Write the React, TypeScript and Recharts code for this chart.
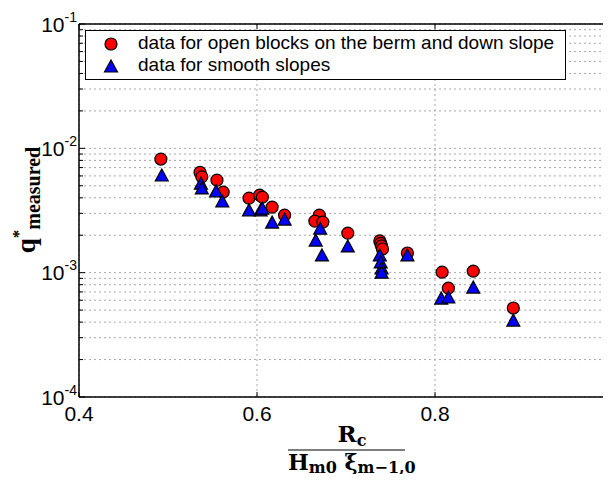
import { ScatterChart, Scatter, XAxis, YAxis, CartesianGrid, ReferenceLine } from "recharts";

// open blocks on the berm and down slope (red circles)
const openX = [0.492, 0.536, 0.538, 0.555, 0.562, 0.591, 0.603, 0.606, 0.617, 0.631, 0.670, 0.665, 0.674, 0.702, 0.738, 0.739, 0.740, 0.741, 0.769, 0.808, 0.815, 0.843, 0.888];
const openY = [8.2e-3, 6.4e-3, 5.9e-3, 5.55e-3, 4.45e-3, 3.98e-3, 4.2e-3, 4.05e-3, 3.37e-3, 2.9e-3, 2.9e-3, 2.6e-3, 2.55e-3, 2.08e-3, 1.8e-3, 1.72e-3, 1.64e-3, 1.55e-3, 1.44e-3, 1.01e-3, 7.5e-4, 1.03e-3, 5.2e-4];

// smooth slopes (blue triangles)
const smoothX = [0.493, 0.537, 0.538, 0.554, 0.561, 0.591, 0.604, 0.606, 0.617, 0.631, 0.671, 0.666, 0.673, 0.702, 0.738, 0.739, 0.740, 0.740, 0.769, 0.807, 0.815, 0.843, 0.888];
const smoothY = [6.1e-3, 5.25e-3, 4.8e-3, 4.55e-3, 3.77e-3, 3.2e-3, 3.2e-3, 3.3e-3, 2.55e-3, 2.7e-3, 2.28e-3, 1.83e-3, 1.39e-3, 1.64e-3, 1.39e-3, 1.22e-3, 1.09e-3, 1.01e-3, 1.39e-3, 6.25e-4, 6.37e-4, 7.66e-4, 4.16e-4];

const xTicks = [0.4, 0.6, 0.8, 1.0];
const decades = [1e-4, 1e-3, 1e-2];
const mults = [1, 2, 3, 4, 5, 6, 7, 8, 9];

const yTicks: number[] = [];
decades.forEach(d => mults.forEach(m => yTicks.push(m * d)));
yTicks.push(1e-1);

const openData = openX.map((x, i) => ({ x, y: openY[i] }));
const smoothData = smoothX.map((x, i) => ({ x, y: smoothY[i] }));

const PLOT_LEFT = 79;
const PLOT_TOP = 24;
const PLOT_BOTTOM = 397;
const SANS = "'Liberation Sans', Arial, Helvetica, sans-serif";
const SERIF = "'Liberation Serif', 'Times New Roman', serif";
const WIDE_SERIF = "'DejaVu Serif', serif";

const Circle = (props: any) => (
  <circle cx={props.cx} cy={props.cy} r={6} fill="#ff0000" stroke="#000" strokeWidth={1.2} />
);

const Triangle = (props: any) => {
  const { cx, cy } = props;
  return (
    <polygon
      points={`${cx},${cy - 6} ${cx - 6.5},${cy + 6} ${cx + 6.5},${cy + 6}`}
      fill="#0000ff"
      stroke="#000"
      strokeWidth={1.2}
    />
  );
};

const XTick = (props: any) => {
  const { x, payload } = props;
  // the label for 1 falls outside the visible window, like in the original
  const showLabel = x < 600;
  return (
    <g>
      <line x1={x} y1={PLOT_BOTTOM} x2={x} y2={PLOT_BOTTOM - 5} stroke="#000" />
      <line x1={x} y1={PLOT_TOP} x2={x} y2={PLOT_TOP + 5} stroke="#000" />
      {showLabel && (
        <text x={x} y={421} textAnchor="middle" fontFamily={SANS} fontSize={21} fill="#000">
          {payload.value}
        </text>
      )}
    </g>
  );
};

const YTick = (props: any) => {
  const { y, payload } = props;
  const v = payload.value as number;
  const exp = Math.round(Math.log10(v));
  const major = Math.abs(v / Math.pow(10, exp) - 1) < 1e-6;
  return (
    <g>
      <line x1={PLOT_LEFT} y1={y} x2={PLOT_LEFT + (major ? 6 : 4)} y2={y} stroke="#000" />
      {major && (
        <text x={77} y={y + 7.5} textAnchor="end" fontFamily={SANS} fontSize={21} fill="#000">
          10
          <tspan dy={-10} fontSize={14}>{String(exp)}</tspan>
        </text>
      )}
    </g>
  );
};

export default function App() {
  return (
    <div style={{ margin: -8, width: 611, height: 482, overflow: "hidden", position: "relative", background: "#fff" }}>
      <ScatterChart width={640} height={482} margin={{ top: 24, right: 27, bottom: 0, left: 0 }}>
        <CartesianGrid stroke="#a8a8a8" strokeDasharray="2 3" />
        <XAxis
          type="number"
          dataKey="x"
          domain={[0.4, 1.0]}
          ticks={xTicks}
          interval={0}
          allowDataOverflow
          height={85}
          tickSize={0}
          tickMargin={0}
          tick={<XTick />}
          axisLine={{ stroke: "#000", strokeWidth: 1.5 }}
        />
        <YAxis
          type="number"
          dataKey="y"
          scale="log"
          domain={[1e-4, 1e-1]}
          ticks={yTicks}
          interval={0}
          allowDataOverflow
          width={79}
          tickSize={0}
          tickMargin={0}
          tick={<YTick />}
          axisLine={{ stroke: "#000", strokeWidth: 1.5 }}
        />
        <ReferenceLine y={1e-1} stroke="#000" strokeWidth={1.5} ifOverflow="visible" />
        <Scatter data={openData} shape={<Circle />} isAnimationActive={false} />
        <Scatter data={smoothData} shape={<Triangle />} isAnimationActive={false} />
      </ScatterChart>

      {/* legend */}
      <div
        style={{
          position: "absolute",
          left: 85,
          top: 30,
          width: 479,
          height: 48,
          border: "1.5px solid #000",
          background: "#fff",
          fontFamily: SANS,
          fontSize: 19,
          color: "#000",
        }}
      >
        <svg width={40} height={48} style={{ position: "absolute", left: 0, top: 0 }}>
          <circle cx={25} cy={13} r={6} fill="#ff0000" stroke="#000" strokeWidth={1.2} />
          <polygon points="25,29 18.5,41 31.5,41" fill="#0000ff" stroke="#000" strokeWidth={1.2} />
        </svg>
        <div style={{ position: "absolute", left: 52, top: 1, lineHeight: "22px", whiteSpace: "nowrap" }}>
          data for open blocks on the berm and down slope
        </div>
        <div style={{ position: "absolute", left: 52, top: 23, lineHeight: "22px", whiteSpace: "nowrap" }}>
          data for smooth slopes
        </div>
      </div>

      {/* axis titles */}
      <svg width={611} height={482} style={{ position: "absolute", left: 0, top: 0, pointerEvents: "none" }}>
        <text
          transform="translate(35,200) rotate(-90)"
          textAnchor="middle"
          fontFamily={SERIF}
          fontWeight="bold"
          fontSize={27}
          fill="#000"
        >
          q<tspan dy={-11} fontSize={17}>*</tspan>
          <tspan dy={16} fontSize={20}>measured</tspan>
        </text>
        <text x={352} y={442} textAnchor="middle" fontFamily={WIDE_SERIF} fontWeight="bold" fontSize={23} fill="#000">
          R<tspan dy={4} fontSize={16}>c</tspan>
        </text>
        <line x1={288} y1={450} x2={405} y2={450} stroke="#000" strokeWidth={1.2} />
        <text x={288} y={470} fontFamily={WIDE_SERIF} fontWeight="bold" fontSize={22} fill="#000">
          H<tspan dy={3} fontSize={16}>m0</tspan>
          <tspan dy={-3}> ξ</tspan>
          <tspan dy={3} fontSize={16}>m−1,0</tspan>
        </text>
      </svg>
    </div>
  );
}
